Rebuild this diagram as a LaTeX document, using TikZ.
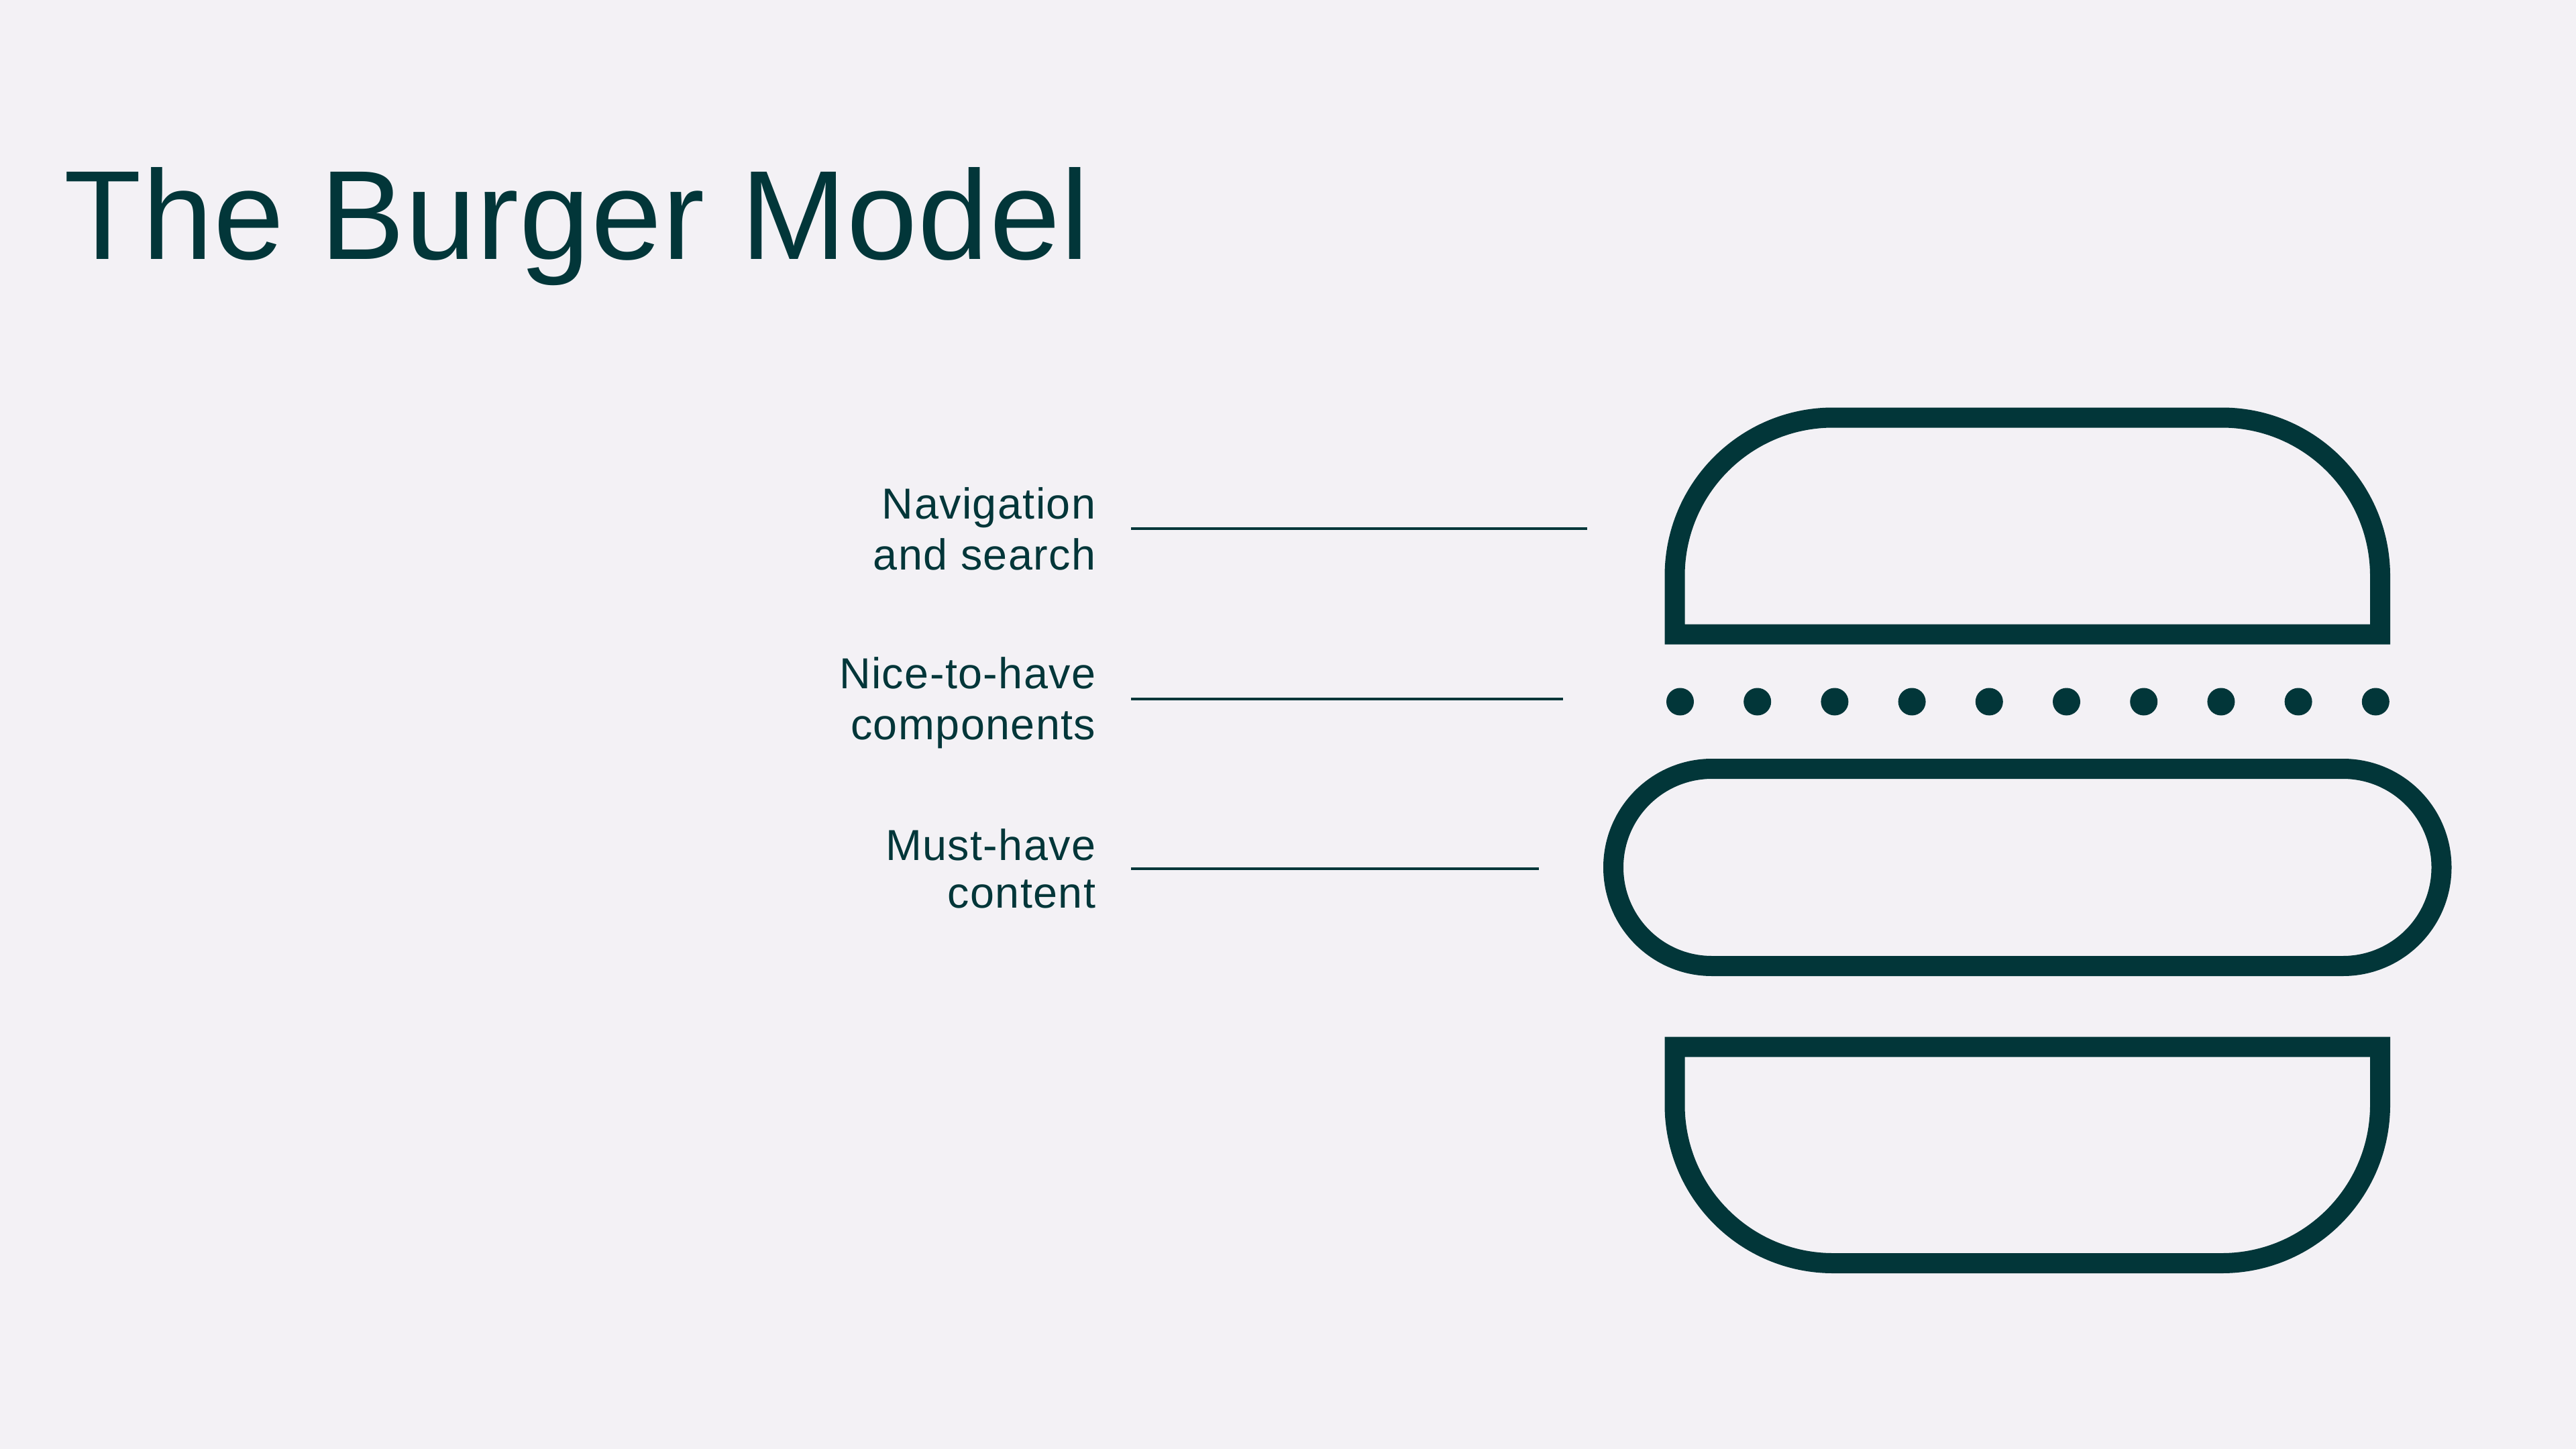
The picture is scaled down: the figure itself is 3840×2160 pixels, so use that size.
\documentclass[tikz,border=0pt]{standalone}
\usepackage{fontspec}
\setmainfont{Liberation Sans}
\newfontfamily\labelfont[LetterSpace=2.2]{Liberation Sans}
\newfontfamily\titlefont[LetterSpace=0.6]{Liberation Sans}
\definecolor{ink}{HTML}{023639}
\definecolor{paper}{HTML}{F3F1F5}
\tikzset{
  px/.style={x=0.1mm,y=-0.1mm},
  bun/.style={draw=ink,line width=3mm,miter limit=10,line join=miter},
  leader/.style={draw=ink,line width=0.4mm},
  seed/.style={circle,fill=ink,inner sep=0pt,minimum size=4.1mm},
  caption/.style={anchor=base east,align=right,inner sep=0pt,text=ink,font=\labelfont\fontsize{18.4pt}{21.6pt}\selectfont},
}
\begin{document}
\begin{tikzpicture}[px]
\useasboundingbox[fill=paper] (0,0) rectangle (3840,2160);
\node[anchor=base west,inner sep=0pt,text=ink,font=\titlefont\fontsize{53.8pt}{60pt}\selectfont] (title) at (95,386) {The Burger Model};
% labels
\node[caption] (nav) at (1634,849) {Navigation\\and search};
\node[caption] (nice) at (1634,1102) {Nice-to-have\\components};
\node[caption] (must) at (1634,1353) {Must-have\\[-1.4pt]content};
% leader lines
\coordinate (navA) at (1686,788); \coordinate (navB) at (2366,788);
\coordinate (niceA) at (1686,1042); \coordinate (niceB) at (2330,1042);
\coordinate (mustA) at (1686,1295); \coordinate (mustB) at (2294,1295);
\draw[leader] (navA) -- (navB);
\draw[leader] (niceA) -- (niceB);
\draw[leader] (mustA) -- (mustB);
% top bun (y axis points down, so arc angles run clockwise on the page)
\draw[bun] (2496.5,945.5) -- (2496.5,858.5) arc[start angle=180,end angle=270,radius=236]
  -- (3312,622.5) arc[start angle=270,end angle=360,radius=236] -- (3548,945.5) -- cycle;
% seeds
\foreach \i in {0,...,9} {
  \node[seed] (seed\i) at ({2504.5+115.2*\i},1046) {};
}
% patty
\draw[bun] (2552,1146) -- (3492.5,1146) arc[start angle=270,end angle=450,radius=147]
  -- (2552,1440) arc[start angle=90,end angle=270,radius=147] -- cycle;
% bottom bun
\draw[bun] (2496.5,1560.5) -- (3548,1560.5) -- (3548,1647) arc[start angle=0,end angle=90,radius=236]
  -- (2732.5,1883) arc[start angle=90,end angle=180,radius=236] -- cycle;
\end{tikzpicture}
\end{document}
